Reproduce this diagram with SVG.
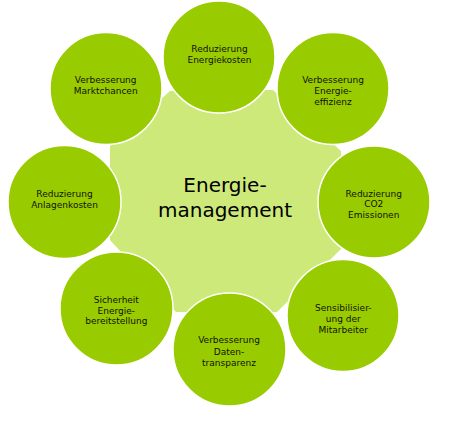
<svg xmlns="http://www.w3.org/2000/svg" width="455" height="422" viewBox="0 0 455 422">
<style>
.c{fill:#99CC00;stroke:#ffffff;stroke-width:1.5}
.t{font-family:"DejaVu Sans",Verdana,sans-serif;font-size:9px;fill:#111100;text-anchor:middle}
.m{font-family:"DejaVu Sans",Verdana,sans-serif;font-size:20px;fill:#000000;text-anchor:middle}
</style>
<rect width="455" height="422" fill="#ffffff"/>
<g id="connectors"></g>
<g id="center">
<polygon points="170,91 273,90 341,151 341,249 277,312 176,312 110,240 110,146" fill="#CDE97A"/>
<text class="m" x="225" y="192">Energie-</text>
<text class="m" x="225" y="216.5">management</text>
</g>
<g id="n1">
<circle class="c" cx="219" cy="57" r="56"/>
<text class="t" x="219.5" y="52.3">Reduzierung</text>
<text class="t" x="219.5" y="63.3">Energiekosten</text>
</g>
<g id="n2">
<circle class="c" cx="333" cy="88.5" r="56"/>
<text class="t" x="333" y="83.3">Verbesserung</text>
<text class="t" x="333" y="94.3">Energie-</text>
<text class="t" x="333" y="105.3">effizienz</text>
</g>
<g id="n3">
<circle class="c" cx="374" cy="202" r="56"/>
<text class="t" x="373.7" y="196.7">Reduzierung</text>
<text class="t" x="373.7" y="207.4">CO2</text>
<text class="t" x="373.7" y="218">Emissionen</text>
</g>
<g id="n4">
<circle class="c" cx="343" cy="315.5" r="56"/>
<text class="t" x="343.3" y="310.7">Sensibilisier-</text>
<text class="t" x="343.3" y="321.7">ung der</text>
<text class="t" x="343.3" y="332.5">Mitarbeiter</text>
</g>
<g id="n5">
<circle class="c" cx="229.5" cy="349.5" r="56.5"/>
<text class="t" x="229" y="343.3">Verbesserung</text>
<text class="t" x="229" y="354.6">Daten-</text>
<text class="t" x="229" y="366">transparenz</text>
</g>
<g id="n6">
<circle class="c" cx="116.5" cy="308.5" r="56.5"/>
<text class="t" x="116.3" y="302.7">Sicherheit</text>
<text class="t" x="116.3" y="313.5">Energie-</text>
<text class="t" x="116.3" y="324.3">bereitstellung</text>
</g>
<g id="n7">
<circle class="c" cx="64.5" cy="202" r="56.5"/>
<text class="t" x="64.5" y="196.7">Reduzierung</text>
<text class="t" x="64.5" y="207.7">Anlagenkosten</text>
</g>
<g id="n8">
<circle class="c" cx="106" cy="88.5" r="56"/>
<text class="t" x="105.7" y="83.3">Verbesserung</text>
<text class="t" x="105.7" y="94.3">Marktchancen</text>
</g>
</svg>
